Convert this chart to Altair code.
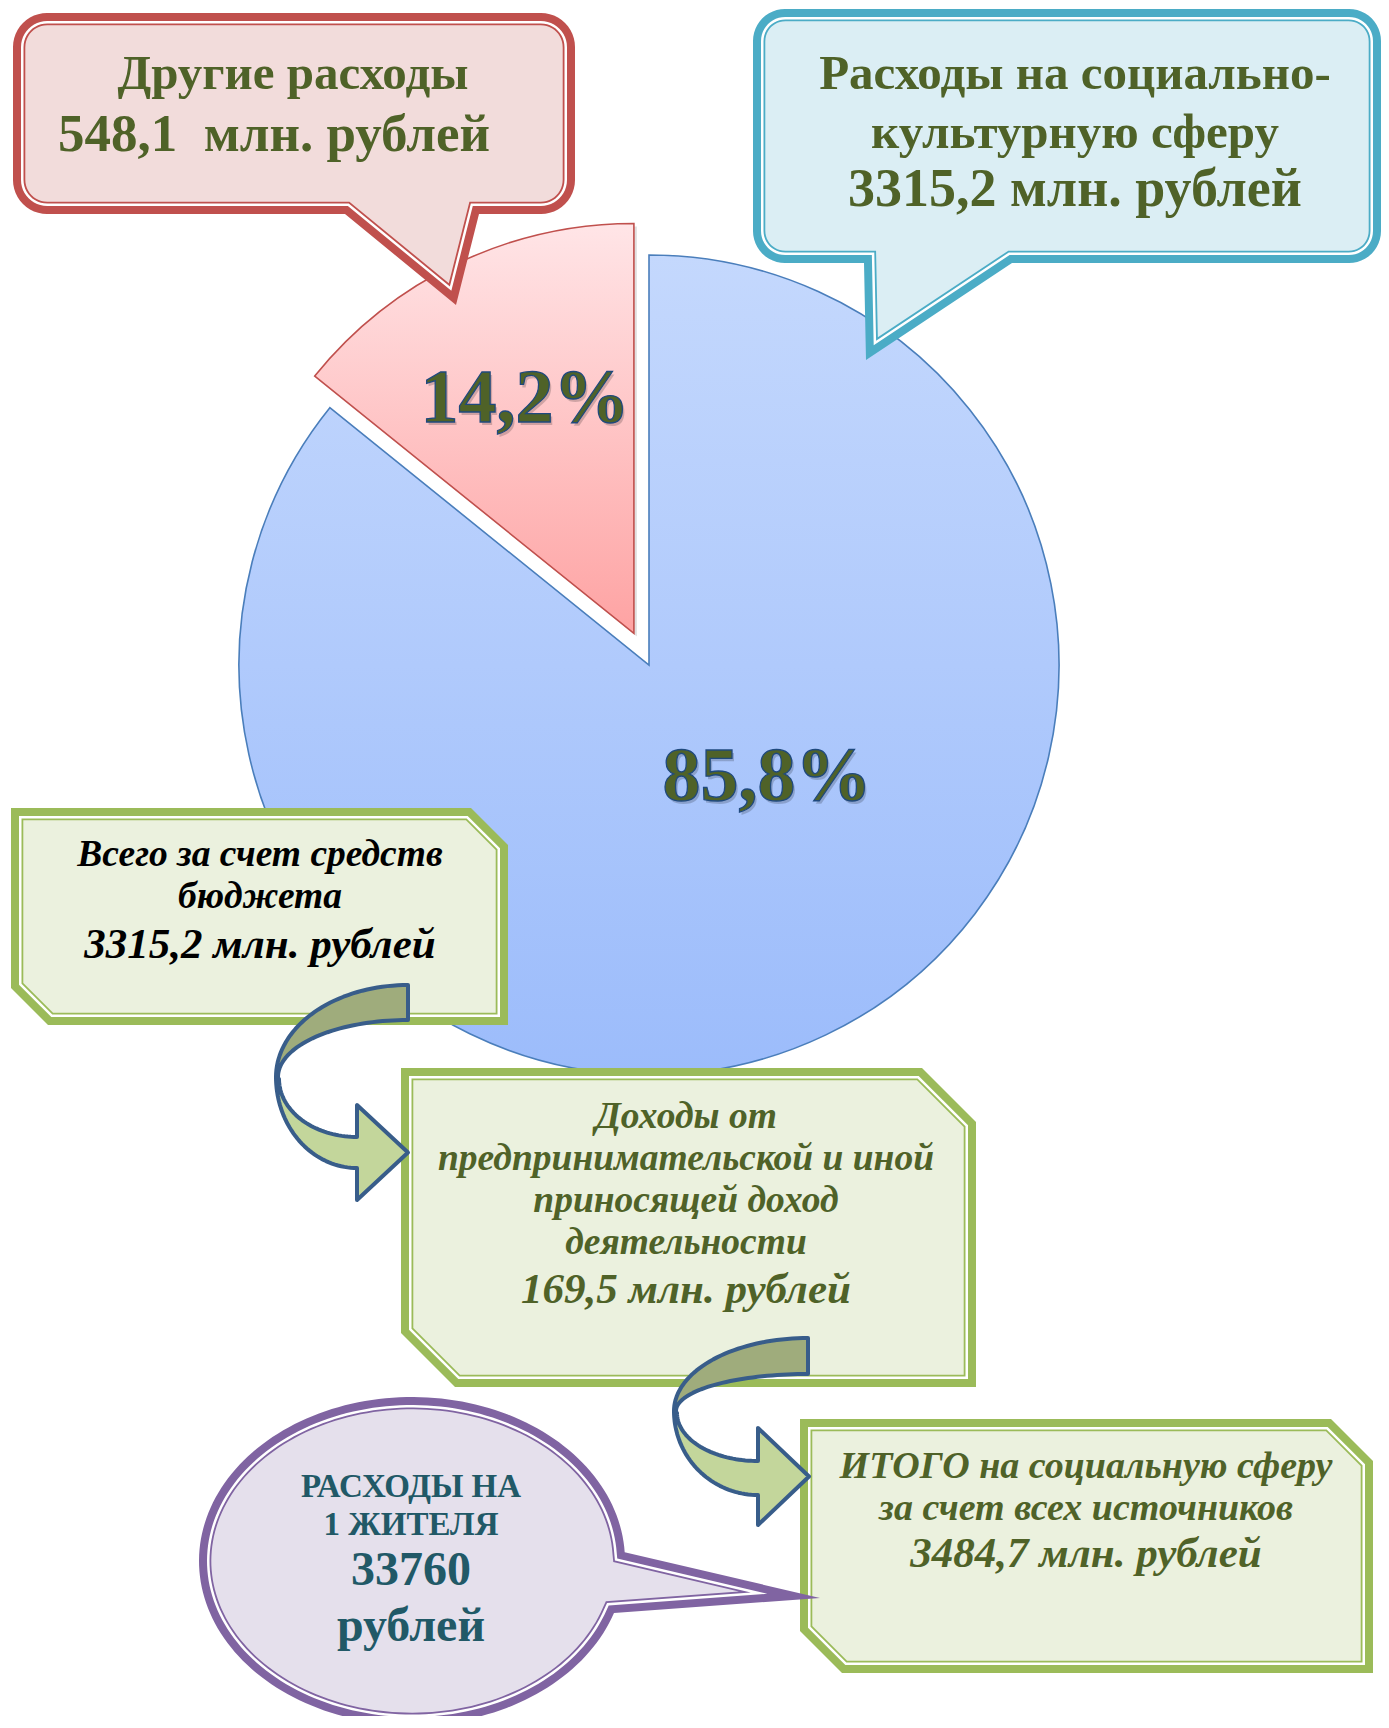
import math
import altair as alt
import pandas as pd

# ---------------- data ----------------
categories = ["Расходы на социально-культурную сферу", "Другие расходы"]
shares = [85.8, 14.2]            # % of expenses
amounts = [3315.2, 548.1]        # млн. рублей
explode = [0, 35]

unit = "млн. рублей"
other_title = ["Другие расходы"]
social_title = ["Расходы на социально-", "культурную сферу"]
budget_lines = ["Всего за счет средств", "бюджета"]
budget_value = 3315.2
business_lines = ["Доходы от", "предпринимательской и иной", "приносящей доход", "деятельности"]
business_value = 169.5
total_lines = ["ИТОГО на социальную сферу", "за счет всех источников"]
total_value = 3484.7
resident_lines = ["РАСХОДЫ НА", "1 ЖИТЕЛЯ"]
resident_value = 33760
resident_unit = "рублей"


def ru(v):
    return f"{v:.1f}".replace(".", ",")


# ---------------- canvas ----------------
W, H = 1373, 1708
OX, OY = 8, 8
xs = alt.Scale(domain=[OX, OX + W], nice=False, zero=False)
ys = alt.Scale(domain=[OY, OY + H], nice=False, zero=False, reverse=True)


def X(f):
    return alt.X(f, type="quantitative", scale=xs, axis=None)


def Y(f):
    return alt.Y(f, type="quantitative", scale=ys, axis=None)


# ---------------- geometry helpers ----------------
def arc_pts(cx, cy, rx, ry, a0, a1, n=40):
    pts = []
    for i in range(n + 1):
        a = math.radians(a0 + (a1 - a0) * i / n)
        pts.append((cx + rx * math.cos(a), cy + ry * math.sin(a)))
    return pts


def clean(pts):
    P = []
    for p in pts:
        if not P or math.hypot(p[0] - P[-1][0], p[1] - P[-1][1]) > 1e-6:
            P.append(p)
    if len(P) > 1 and math.hypot(P[0][0] - P[-1][0], P[0][1] - P[-1][1]) < 1e-6:
        P.pop()
    return P


def offset(pts, d):
    P = clean(pts)
    n = len(P)
    area = sum(P[i][0] * P[(i + 1) % n][1] - P[(i + 1) % n][0] * P[i][1] for i in range(n))
    sgn = 1 if area > 0 else -1
    lines = []
    for i in range(n):
        a, b = P[i], P[(i + 1) % n]
        dx, dy = b[0] - a[0], b[1] - a[1]
        L = math.hypot(dx, dy)
        nx, ny = -dy / L * sgn, dx / L * sgn
        lines.append(((a[0] + nx * d, a[1] + ny * d), (dx, dy)))
    out = []
    for i in range(n):
        a1, u1 = lines[i - 1]
        a2, u2 = lines[i]
        cr = u1[0] * u2[1] - u1[1] * u2[0]
        if abs(cr) <= 1e-6 * math.hypot(*u1) * math.hypot(*u2):
            out.append(a2)
        else:
            t = ((a2[0] - a1[0]) * u2[1] - (a2[1] - a1[1]) * u2[0]) / cr
            out.append((a1[0] + t * u1[0], a1[1] + t * u1[1]))
    return out


def to_path(pts):
    P = clean(pts)
    return "M" + " L".join(f"{x:.2f},{y:.2f}" for x, y in P) + " Z"


def bubble(x0, y0, x1, y1, r, tail):
    pts = []
    pts += arc_pts(x0 + r, y0 + r, r, r, 180, 270, 12)
    pts += arc_pts(x1 - r, y0 + r, r, r, 270, 360, 12)
    pts += arc_pts(x1 - r, y1 - r, r, r, 0, 90, 12)
    pts += tail
    pts += arc_pts(x0 + r, y1 - r, r, r, 90, 180, 12)
    return pts


def plaque(x0, y0, x1, y1, c):
    return [(x0, y0), (x1 - c, y0), (x1, y0 + c), (x1, y1), (x0 + c, y1), (x0, y1 - c)]


def ellipse_bubble(cx, cy, rx, ry, a_low, a_up, tip):
    pts = arc_pts(cx, cy, rx, ry, a_low, a_up, 180)
    pts.append(tip)
    return pts


origin = pd.DataFrame({"ox": [0], "oy": [0]})


def shape(path, fill, stroke=None, sw=0, opacity=1):
    kw = dict(shape=path, size=4, filled=True, fill=fill, opacity=opacity)
    if stroke:
        kw.update(stroke=stroke, strokeWidth=sw, strokeJoin="round")
    return alt.Chart(origin).mark_point(**kw).encode(x=X("ox"), y=Y("oy"))


def framed(poly, border, inner):
    return [
        shape(to_path(poly), border),
        shape(to_path(offset(poly, 8.0)), "#ffffff"),
        shape(to_path(offset(poly, 10.5)), border),
        shape(to_path(offset(poly, 12.3)), inner),
    ]


def arrow(right, top, thick, left, midy, back, shaft_top, shaft_bot, head_top, head_bot, tip_x):
    upper = arc_pts(right, midy, right - left, midy - top, 270, 180, 40)
    upper += arc_pts(right, midy, right - left - 2, midy - top - thick, 180, 270, 40)
    lower = arc_pts(back, midy, back - left, shaft_bot - midy, 180, 90, 40)
    lower += [(back, head_bot), (tip_x, (head_top + head_bot) / 2), (back, head_top)]
    lower += arc_pts(back, midy + 2, back - left - 3, shaft_top - midy - 2, 90, 180, 40)
    return [
        shape(to_path(upper), "#9fac7c", "#385d8a", 4),
        shape(to_path(lower), "#c3d69b", "#385d8a", 4),
    ]


def texts(rows, size, color, italic=False, dx=0, dy=0, stroke=None, sw=0, opacity=1):
    df = pd.DataFrame(rows, columns=["x", "y", "label"])
    kw = dict(font="Liberation Serif", fontSize=size, fontWeight="bold",
              fontStyle="italic" if italic else "normal", align="center",
              baseline="alphabetic", fill=color, dx=dx, dy=dy, opacity=opacity)
    if stroke:
        kw.update(stroke=stroke, strokeWidth=sw)
    return alt.Chart(df).mark_text(**kw).encode(x=X("x"), y=Y("y"), text="label:N")


# ---------------- pie ----------------
PCX, PCY, PR = 649, 665, 410
pie = pd.DataFrame({"cat": categories, "share": shares, "explode": explode})
pie["t1"] = pie["share"].cumsum() / 100 * 2 * math.pi
pie["t0"] = pie["t1"] - pie["share"] / 100 * 2 * math.pi
mid = (pie["t0"] + pie["t1"]) / 2
pie["cx"] = PCX + pie["explode"] * mid.apply(math.sin)
pie["cy"] = PCY - pie["explode"] * mid.apply(math.cos)
shadow = pie.copy()
shadow["cx"] = shadow["cx"] + 3
shadow["cy"] = shadow["cy"] + 3

blue_grad = alt.LinearGradient(gradient="linear", x1=0, y1=0, x2=0, y2=1,
                               stops=[alt.GradientStop(color="#c4d8fd", offset=0),
                                      alt.GradientStop(color="#9cbcfb", offset=1)])
pink_grad = alt.LinearGradient(gradient="linear", x1=0, y1=0, x2=0, y2=1,
                               stops=[alt.GradientStop(color="#ffe5e7", offset=0),
                                      alt.GradientStop(color="#fea3a3", offset=1)])


def slice_layer(df, i, fill, stroke=None, opacity=1):
    kw = dict(radius=PR, fill=fill, opacity=opacity)
    if stroke:
        kw.update(stroke=stroke, strokeWidth=1.6)
    return alt.Chart(df.iloc[[i]]).mark_arc(**kw).encode(
        x=X("cx"), y=Y("cy"),
        theta=alt.Theta("t0:Q", scale=None), theta2=alt.Theta2("t1"))


layers = [
    slice_layer(pie, 0, blue_grad, "#4a7ebb"),
    slice_layer(shadow, 1, "#000000", opacity=0.12),
    slice_layer(pie, 1, pink_grad, "#c0504d"),
]

pct_rows = [(767, 800, ru(shares[0]) + "%"), (525, 422, ru(shares[1]) + "%")]
layers.append(texts(pct_rows, 76, "#000000", dx=2, dy=3, opacity=0.18))
layers.append(texts(pct_rows, 76, "#4f6228", stroke="#1f497d", sw=1.3))

# ---------------- callouts ----------------
layers += framed(bubble(13, 13, 575, 214, 34, [(479, 214), (456, 305), (345, 214)]), "#c0504d", "#f2dcdb")
layers += framed(bubble(753, 9, 1381, 263, 32, [(1012, 263), (866, 360), (864, 263)]), "#4bacc6", "#dbeef4")
layers += framed(plaque(11, 808, 508, 1025, 37), "#9bbb59", "#ebf1de")
layers += framed(plaque(401, 1068, 976, 1387, 54), "#9bbb59", "#ebf1de")
layers += framed(plaque(800, 1419, 1373, 1673, 42), "#9bbb59", "#ebf1de")
layers += framed(ellipse_bubble(412, 1561, 213, 164, 18.5, 356.9, (820, 1598)), "#8064a2", "#e5e0ec")

layers += arrow(408, 985, 35, 276, 1077, 357, 1137, 1168, 1105, 1200, 408)
layers += arrow(808, 1338, 36, 674, 1411, 758, 1461, 1495, 1428, 1525, 809)

# ---------------- texts ----------------
OLIVE = "#4f6228"
layers.append(texts([(293, 89, other_title[0])], 49, OLIVE))
layers.append(texts([(274, 151, f"{ru(amounts[1])}\u00a0 {unit}")], 53, OLIVE))
layers.append(texts([(1075, 89, social_title[0]), (1075, 148, social_title[1])], 49, OLIVE))
layers.append(texts([(1075, 206, f"{ru(amounts[0])} {unit}")], 54, OLIVE))
layers.append(texts([(260, 866, budget_lines[0]), (260, 908, budget_lines[1])], 37.5, "#000000", italic=True))
layers.append(texts([(260, 958, f"{ru(budget_value)} {unit}")], 43, "#000000", italic=True))
layers.append(texts([(686, 1128, business_lines[0]), (686, 1170, business_lines[1]),
                     (686, 1212, business_lines[2]), (686, 1254, business_lines[3])], 37.5, OLIVE, italic=True))
layers.append(texts([(686, 1303, f"{ru(business_value)} {unit}")], 43, OLIVE, italic=True))
layers.append(texts([(1086, 1478, total_lines[0]), (1086, 1520, total_lines[1])], 38, OLIVE, italic=True))
layers.append(texts([(1086, 1567, f"{ru(total_value)} {unit}")], 43, OLIVE, italic=True))
TEAL = "#215967"
layers.append(texts([(411, 1497, resident_lines[0]), (411, 1535, resident_lines[1])], 33, TEAL))
layers.append(texts([(411, 1585, str(resident_value)), (411, 1641, resident_unit)], 48, TEAL))

chart = alt.layer(*layers).properties(
    width=W, height=H, padding=0, autosize=alt.AutoSizeParams(type="none"),
    background="#ffffff"
).configure_view(stroke=None)

chart.save("out.html", embed_options={"renderer": "svg", "actions": False})
